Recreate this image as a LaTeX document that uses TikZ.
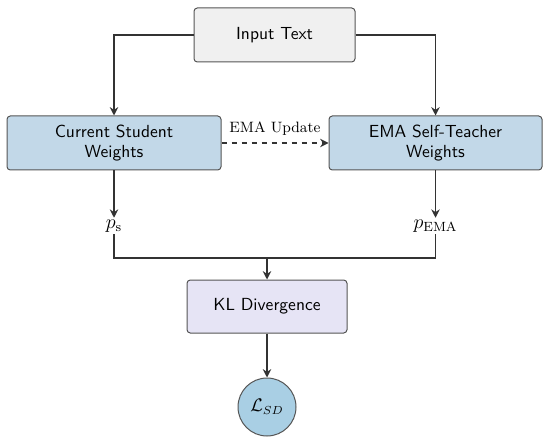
\documentclass[tikz,border=0pt]{standalone}
\usetikzlibrary{arrows.meta}
\definecolor{lineC}{HTML}{333333}
\definecolor{borderC}{HTML}{555555}
\definecolor{inputF}{HTML}{F0F0F0}
\definecolor{blueF}{HTML}{C2D8E8}
\definecolor{klF}{HTML}{E6E4F5}
\definecolor{circF}{HTML}{A9CFE4}
\begin{document}
\begin{tikzpicture}[x=0.6pt,y=-0.6pt,
  box/.style={draw=borderC,line width=0.6pt,rounded corners=2pt,font=\sffamily\fontsize{10.5}{12.5}\selectfont,align=center,inner sep=0pt},
  conn/.style={draw=lineC,line width=0.8pt},
  arr/.style={conn,-{Stealth[length=5pt,width=5pt]}}]
\useasboundingbox (0,0) rectangle (550,442);
\node[box,fill=inputF,minimum width=96.6pt,minimum height=32.4pt] (inp) at (274.5,35) {Input Text};
\node[box,fill=blueF,minimum width=128.4pt,minimum height=32.4pt] (stu) at (114,143) {Current Student\\Weights};
\node[box,fill=blueF,minimum width=127.8pt,minimum height=32.4pt] (tea) at (435.5,143) {EMA Self-Teacher\\Weights};
\node[inner sep=1pt] (ps) at (114,226) {\large $p_{\mathrm{s}}$};
\node[inner sep=1pt] (pe) at (435.5,226) {\large $p_{\mathrm{EMA}}$};
\node[box,fill=klF,minimum width=96pt,minimum height=31.8pt] (kl) at (267,306.5) {KL Divergence};
\node[circle,draw=borderC,line width=0.6pt,fill=circF,minimum size=34.8pt,inner sep=0pt,font=\fontsize{10.5}{12.5}\selectfont] (loss) at (267,407) {$\mathcal{L}_{SD}$};
\coordinate (j) at (267,258);
\draw[arr] (inp.west) -| (stu.north);
\draw[arr] (inp.east) -| (tea.north);
\draw[arr,dashed] (stu.east) -- node[above=1pt,font=\small]{EMA Update} (tea.west);
\draw[arr] (stu.south) -- (ps.north);
\draw[arr] (tea.south) -- (pe.north);
\draw[conn] (ps.south) |- (j);
\draw[conn] (pe.south) |- (j);
\draw[arr] (j) -- (kl.north);
\draw[arr] (kl.south) -- (loss.north);
\end{tikzpicture}
\end{document}
